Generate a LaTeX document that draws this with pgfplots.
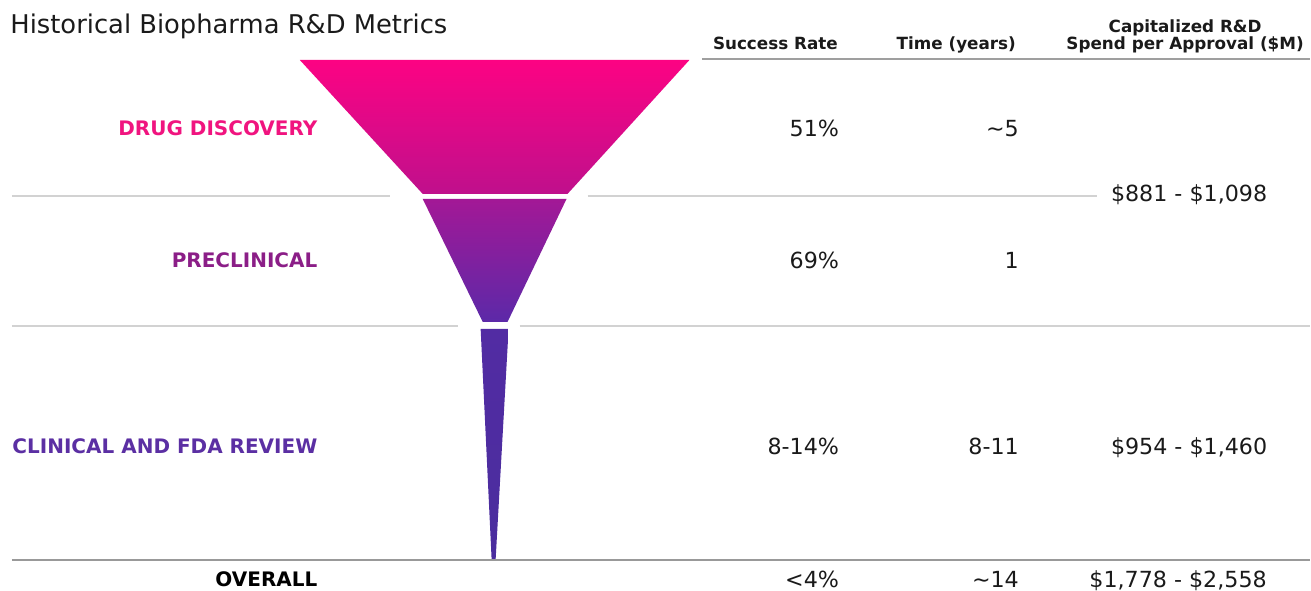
\documentclass[border=0pt]{standalone}
\usepackage{pgfplots}
\pgfplotsset{compat=1.18}
\usepackage{fontspec}
\setmainfont{DejaVu Sans}
\definecolor{pinkA}{HTML}{FC0383}
\definecolor{pinkM}{HTML}{F5057F}
\definecolor{purpB}{HTML}{BF108C}
\definecolor{purpC}{HTML}{A31896}
\definecolor{purpM}{HTML}{8F1D99}
\definecolor{violD}{HTML}{5C29A8}
\definecolor{violE}{HTML}{522CA3}
\definecolor{violF}{HTML}{4A2D9E}
\definecolor{labPink}{HTML}{F0147F}
\definecolor{labPurp}{HTML}{8B1E87}
\definecolor{labViol}{HTML}{5B2FA3}
\definecolor{txt}{HTML}{1A1A1A}
\begin{document}
\begin{tikzpicture}
\begin{axis}[width=655.5pt,height=295.5pt,scale only axis,
  xmin=0,xmax=1311,ymin=0,ymax=591,y dir=reverse,hide axis,clip=false]
\path (axis cs:0,0) rectangle (axis cs:1311,591);
% funnel
\addplot[draw=none,top color=pinkA,middle color=pinkM,bottom color=purpB] coordinates {(300,60) (690,60) (568,194) (423,194)} -- cycle;
\addplot[draw=none,top color=purpC,middle color=purpM,bottom color=violD] coordinates {(423,199) (567,199) (508,322) (483,322)} -- cycle;
\addplot[draw=none,top color=violE,bottom color=violF] coordinates {(481,329) (509,329) (496,560) (492,560)} -- cycle;
% rules
\addplot[gray!75,line width=1pt] coordinates {(703,59) (1311,59)};
\addplot[gray!35,line width=1pt] coordinates {(12,196) (390,196)};
\addplot[gray!35,line width=1pt] coordinates {(588,196) (1098,196)};
\addplot[gray!35,line width=1pt] coordinates {(12,326) (458,326)};
\addplot[gray!35,line width=1pt] coordinates {(520,326) (1311,326)};
\addplot[gray!80,line width=1pt] coordinates {(12,560) (1311,560)};
% title
\node[anchor=base west,inner sep=0pt,text=txt,font=\fontsize{12.9}{16}\selectfont] at (axis cs:10,34) {Historical Biopharma R\&D Metrics};
% headers
\begin{scope}[every node/.style={inner sep=0pt,text=txt,font=\fontsize{8.4}{10}\selectfont\bfseries}]
\node[anchor=base] at (axis cs:776,50) {Success Rate};
\node[anchor=base] at (axis cs:957,50) {Time (years)};
\node[anchor=base] at (axis cs:1186,33) {Capitalized R\&D};
\node[anchor=base] at (axis cs:1186,50) {Spend per Approval (\$M)};
\end{scope}
% row labels
\begin{scope}[every node/.style={inner sep=0pt,anchor=base east,font=\fontsize{10}{12}\selectfont\bfseries}]
\node[text=labPink] at (axis cs:318,136) {DRUG DISCOVERY};
\node[text=labPurp] at (axis cs:318,268) {PRECLINICAL};
\node[text=labViol] at (axis cs:318,454) {CLINICAL AND FDA REVIEW};
\node[text=black] at (axis cs:318,587) {OVERALL};
\end{scope}
% values
\begin{scope}[every node/.style={inner sep=0pt,text=txt,font=\fontsize{11.1}{13}\selectfont}]
\node[anchor=base east] at (axis cs:840,137) {51\%};
\node[anchor=base east] at (axis cs:1020,137) {\char`~5};
\node[anchor=base east] at (axis cs:840,269) {69\%};
\node[anchor=base east] at (axis cs:1020,269) {1};
\node[anchor=base east] at (axis cs:840,455) {8-14\%};
\node[anchor=base east] at (axis cs:1020,455) {8-11};
\node[anchor=base east] at (axis cs:840,588) {<4\%};
\node[anchor=base east] at (axis cs:1020,588) {\char`~14};
\node[anchor=base] at (axis cs:1190,202) {\$881 - \$1,098};
\node[anchor=base] at (axis cs:1190,455) {\$954 - \$1,460};
\node[anchor=base] at (axis cs:1179,588) {\$1,778 - \$2,558};
\end{scope}
\end{axis}
\end{tikzpicture}
\end{document}
